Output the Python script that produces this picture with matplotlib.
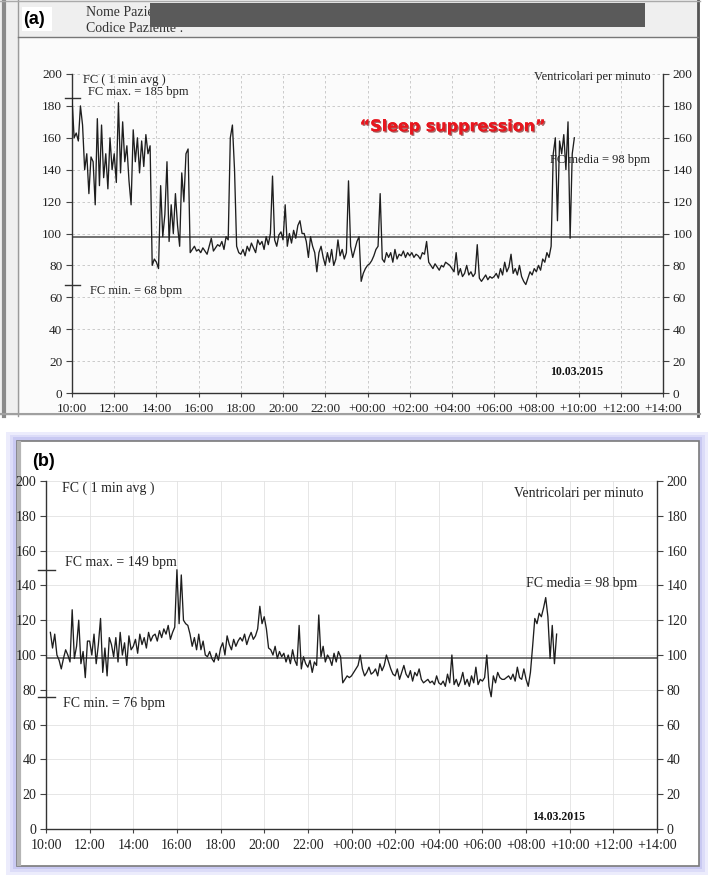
import numpy as np
import matplotlib
matplotlib.use("Agg")
import matplotlib.pyplot as plt
from matplotlib.patches import Rectangle
import matplotlib.patheffects as pe

step_h = 0.1

start_a = 10.0
hr_a = [
    185, 160, 163, 158, 180, 168, 140, 150, 125, 148,
    145, 118, 172, 130, 168, 135, 150, 128, 160, 140,
    150, 132, 182, 138, 170, 145, 155, 133, 118, 165,
    145, 160, 138, 158, 142, 162, 150, 155, 80, 84,
    82, 78, 130, 98, 112, 145, 95, 118, 100, 125,
    105, 92, 138, 120, 150, 153, 88, 90, 92, 89,
    90, 88, 91, 89, 87, 92, 97, 89, 91, 93,
    92, 95, 90, 98, 96, 160, 168, 140, 92, 88,
    87, 90, 86, 92, 89, 94, 91, 88, 96, 93,
    95, 90, 98, 93, 100, 136, 96, 92, 99, 101,
    96, 118, 92, 100, 94, 102, 97, 105, 108, 100,
    100, 95, 85, 98, 92, 88, 76, 88, 92, 85,
    80, 88, 82, 90, 80, 84, 96, 86, 90, 84,
    88, 133, 92, 85, 90, 95, 98, 70, 75, 78,
    80, 81, 83, 86, 90, 92, 125, 84, 82, 88,
    85, 88, 82, 90, 84, 87, 86, 89, 85, 88,
    86, 88, 85, 87, 86, 84, 88, 87, 95, 82,
    80, 78, 81, 79, 77, 80, 79, 82, 81, 80,
    78, 76, 88, 74, 78, 73, 75, 80, 74, 76,
    73, 75, 93, 72, 70, 72, 74, 71, 73, 72,
    73, 75, 72, 78, 74, 82, 76, 79, 87, 75,
    78, 74, 80, 73, 70, 68, 72, 76, 74, 78,
    76, 80, 77, 84, 82, 88, 85, 92, 150, 160,
    108, 158, 150, 162, 140, 170, 97, 150, 160,
]

start_b = 10.2
hr_b = [
    113, 104, 112, 100, 97, 92, 98, 103,
    100, 96, 126, 98, 105, 120, 95, 102, 87, 108,
    108, 100, 112, 95, 106, 121, 90, 104, 88, 110,
    106, 99, 110, 96, 113, 100, 107, 94, 111, 103,
    105, 109, 101, 112, 106, 110, 104, 113, 108, 111,
    112, 108, 114, 110, 115, 112, 117, 109, 113, 116,
    149, 118, 146, 120, 118, 117, 112, 105, 110, 103,
    112, 103, 108, 100, 99, 102, 98, 96, 101, 97,
    104, 107, 100, 111, 106, 103, 109, 105, 108, 110,
    108, 112, 106, 110, 113, 109, 111, 115, 128, 118,
    122, 115, 104, 103, 100, 105, 98, 102, 99, 101,
    96, 100, 95, 103, 97, 94, 117, 92, 99, 95,
    93, 97, 90, 96, 94, 123, 99, 105, 96, 100,
    98, 94, 101, 96, 102, 99, 84, 86, 88, 87,
    88, 90, 92, 94, 100, 92, 88, 90, 93, 89,
    90, 92, 88, 95, 91, 94, 100, 96, 92, 89,
    88, 92, 86, 90, 94, 89, 87, 91, 85, 90,
    88, 92, 86, 84, 85, 86, 84, 85, 83, 88,
    84, 83, 85, 82, 89, 84, 100, 83, 86, 82,
    85, 90, 83, 86, 82, 88, 84, 93, 83, 86,
    85, 87, 100, 82, 76, 88, 84, 90, 87, 86,
    86, 87, 88, 86, 89, 85, 93, 87, 86, 92,
    86, 82, 90, 105, 121, 118, 124, 122, 127, 133,
    122, 98, 117, 95, 112,
]

fc_max = [185, 149]
fc_min = [68, 76]
fc_mean = [98, 98]
dates = ["10.03.2015", "14.03.2015"]
panel_tags = ["(a)", "(b)"]

x_ticks = list(range(10, 39, 2))
x_labels = ["10:00", "12:00", "14:00", "16:00", "18:00", "20:00", "22:00",
            "+00:00", "+02:00", "+04:00", "+06:00", "+08:00", "+10:00",
            "+12:00", "+14:00"]
y_ticks = list(range(0, 201, 20))

W, H = 709, 876
fig = plt.figure(figsize=(W / 100, H / 100), dpi=100)
fig.patch.set_facecolor("white")

serif = ["Liberation Serif", "DejaVu Serif"]


def px_axes(l, t, r, b):
    return fig.add_axes([l / W, 1 - b / H, (r - l) / W, (b - t) / H])


# ---- background decorations in pixel space ----
bg = fig.add_axes([0, 0, 1, 1], zorder=-5)
bg.set_xlim(0, W)
bg.set_ylim(H, 0)
bg.axis("off")

# scanned sheet (a)
bg.add_patch(Rectangle((0, 0), 700, 416, facecolor="#efefef", edgecolor="none"))
bg.add_patch(Rectangle((20, 38), 677, 376, facecolor="#fbfbfb", edgecolor="none"))
bg.plot([4, 4], [0, 416], color="#8a8a8a", lw=3)
bg.plot([18, 18], [0, 416], color="#9a9a9a", lw=1)
bg.plot([698, 698], [0, 416], color="#555555", lw=2)
bg.plot([0, 700], [1, 1], color="#aaaaaa", lw=1)
bg.plot([18, 698], [37, 37], color="#777777", lw=1)
bg.plot([0, 700], [414, 414], color="#a0a0a0", lw=1.5)
bg.text(86, 13, "Nome Paziente :", family=serif, fontsize=10, color="#333",
        va="center")
bg.text(86, 28, "Codice Paziente :", family=serif, fontsize=10, color="#333",
        va="center")
bg.add_patch(Rectangle((150, 3), 495, 24, facecolor="#5a5a5a", edgecolor="none",
                       zorder=3))
bg.add_patch(Rectangle((22, 7), 30, 24, facecolor="white", edgecolor="none"))

# glowing frame (b)
bg.add_patch(Rectangle((6, 432), 702, 443, facecolor="#ececfc", edgecolor="none"))
bg.add_patch(Rectangle((10, 435), 695, 437, facecolor="#dcdcf8", edgecolor="none"))
bg.add_patch(Rectangle((13, 437), 689, 432, facecolor="#c9c9f2", edgecolor="none"))
bg.add_patch(Rectangle((17, 441), 682, 425, facecolor="white", edgecolor="#7a7a7a",
                       lw=1.2))
bg.plot([19, 19], [443, 864], color="#b5b5b5", lw=3)

tag_pos = [(23, 19), (32, 462)]
for tag, (tx, ty) in zip(panel_tags, tag_pos):
    bg.text(tx, ty, tag, family=["Liberation Sans", "DejaVu Sans"],
            fontweight="bold", fontsize=13, va="center", color="black")

# ---- the two trend charts ----
axes = [px_axes(72, 74, 663, 393), px_axes(46, 481, 657, 829)]
series = [(start_a, hr_a), (start_b, hr_b)]
grid_styles = [dict(color="#c4c4c4", lw=0.6, ls=(0, (3, 3))),
               dict(color="#e2e2e2", lw=0.6, ls="-")]
tick_size = [9.5, 10]

for i, ax in enumerate(axes):
    start, vals = series[i]
    t = start + step_h * np.arange(len(vals))
    ax.set_facecolor("none")
    ax.plot(t, vals, color="#1e1e1e", lw=0.95, zorder=3)
    ax.axhline(fc_mean[i], color="#4a4a4a", lw=1.1, zorder=2)

    ax.set_xlim(10, 38)
    ax.set_ylim(0, 200)
    ax.set_xticks(x_ticks)
    ax.set_xticklabels(x_labels)
    ax.set_yticks(y_ticks)
    ax.grid(True, **grid_styles[i])
    ax.set_axisbelow(True)
    for s in ["left", "bottom", "right"]:
        ax.spines[s].set_color("#333")
        ax.spines[s].set_linewidth(1)
    ax.spines["top"].set_visible(False)
    ax.tick_params(axis="y", which="both", left=True, right=True,
                   labelleft=True, labelright=True, length=4, width=0.8,
                   color="#444", pad=3)
    ax.tick_params(axis="x", length=3, width=0.8, color="#444", pad=4)
    for lab in ax.get_xticklabels() + ax.get_yticklabels():
        lab.set_family(serif)
        lab.set_fontsize(tick_size[i])
        lab.set_color("#222")

    # max / min markers outside the left spine
    for v in (fc_max[i], fc_min[i]):
        ax.plot([9.65, 10.4], [v, v], color="#333", lw=1, clip_on=False)

ax_a, ax_b = axes
txt = dict(family=serif, fontsize=9, color="#222", va="center")

ax_a.text(10.5, 196, "FC ( 1 min avg )", ha="left", **txt)
ax_a.text(10.75, 189, "FC max. = %d bpm" % fc_max[0], ha="left", **txt)
ax_a.text(10.85, 64, "FC min. = %d bpm" % fc_min[0], ha="left", **txt)
ax_a.text(37.4, 146, "FC media = %d bpm" % fc_mean[0], ha="right", **txt)
ax_a.text(37.4, 198, "Ventricolari per minuto", ha="right", **txt)
ax_a.text(33.9, 13, dates[0], ha="center", family=serif, fontsize=8.5,
          fontweight="bold", color="#111", va="center")
ax_a.text(28.05, 167, "\u201cSleep suppression\u201d", ha="center", va="center",
          family=["DejaVu Sans"], fontweight="bold", fontsize=11.5,
          color="#e8161e",
          path_effects=[pe.withSimplePatchShadow(offset=(1, -1),
                                                 shadow_rgbFace="#6a0000",
                                                 alpha=0.6), pe.Normal()])

txt_b = dict(family=serif, fontsize=10, color="#222", va="center")
ax_b.text(10.75, 196, "FC ( 1 min avg )", ha="left", **txt_b)
ax_b.text(10.85, 153, "FC max. = %d bpm" % fc_max[1], ha="left", **txt_b)
ax_b.text(10.8, 72, "FC min. = %d bpm" % fc_min[1], ha="left", **txt_b)
ax_b.text(37.1, 141, "FC media = %d bpm" % fc_mean[1], ha="right", **txt_b)
ax_b.text(37.4, 193, "Ventricolari per minuto", ha="right", **txt_b)
ax_b.text(33.5, 7, dates[1], ha="center", family=serif, fontsize=8.5,
          fontweight="bold", color="#111", va="center")

fig.savefig("out.png", dpi=100)
